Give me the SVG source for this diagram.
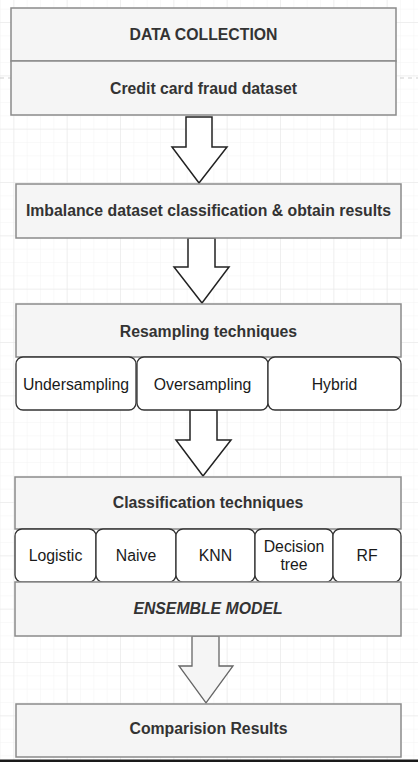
<svg xmlns="http://www.w3.org/2000/svg" width="418" height="762" viewBox="0 0 418 762">
<defs>
<pattern id="minor" x="13.33" y="22" width="13.333" height="13.333" patternUnits="userSpaceOnUse">
<path d="M0 0H13.333M0 0V13.333" fill="none" stroke="#f3f3f3" stroke-width="1"/>
</pattern>
<pattern id="major" x="13.33" y="22" width="53.333" height="53.333" patternUnits="userSpaceOnUse">
<path d="M0 0H53.333M0 0V53.333" fill="none" stroke="#e6e6e6" stroke-width="1"/>
</pattern>
</defs>
<style>
.box{fill:#f5f5f5;stroke:#8a8a8a;stroke-width:1.5}
.sub{fill:#ffffff;stroke:#333333;stroke-width:1.3}
.arrow{fill:#ffffff;stroke:#222222;stroke-width:1.5;stroke-linejoin:miter}
.arrow2{fill:#f5f5f5;stroke:#666666;stroke-width:1.3}
.h{font-family:"Liberation Sans",Arial,sans-serif;font-size:15.8px;font-weight:bold;fill:#333333;text-anchor:middle}
.t{font-family:"Liberation Sans",Arial,sans-serif;font-size:15.8px;fill:#1a1a1a;text-anchor:middle}
</style>
<rect width="418" height="762" fill="#ffffff"/>
<rect width="418" height="762" fill="url(#minor)"/>
<rect width="418" height="762" fill="url(#major)"/>
<line x1="0" y1="78" x2="418" y2="78" stroke="#cfcfcf" stroke-width="1" stroke-dasharray="4 4"/>

<g id="connectors">
<path class="arrow" d="M186 117V147H172L199 183L227 147H212V117Z"/>
<path class="arrow" d="M188 238V267H174L202 303L229 267H215V238Z"/>
<path class="arrow" d="M190 410V440H176L203 476L231 440H217V410Z"/>
<path class="arrow2" d="M192 636V666H179L206 703L233 666H219V636Z"/>
</g>

<g id="data-collection">
<rect class="box" x="11" y="8" width="385" height="53"/>
<text class="h" x="203.5" y="39.5">DATA COLLECTION</text>
</g>
<g id="credit-card">
<rect class="box" x="11" y="61" width="385" height="54"/>
<text class="h" x="203.5" y="94">Credit card fraud dataset</text>
</g>
<g id="imbalance">
<rect class="box" x="16" y="184" width="385" height="54"/>
<text class="h" x="208.5" y="216">Imbalance dataset classification &amp; obtain results</text>
</g>
<g id="resampling">
<rect class="box" x="16" y="304" width="385" height="53"/>
<text class="h" x="208.5" y="337">Resampling techniques</text>
</g>
<g id="undersampling">
<rect class="sub" x="16" y="357" width="120" height="53" rx="7"/>
<text class="t" x="76" y="390">Undersampling</text>
</g>
<g id="oversampling">
<rect class="sub" x="137" y="357" width="131" height="53" rx="7"/>
<text class="t" x="202.5" y="390">Oversampling</text>
</g>
<g id="hybrid">
<rect class="sub" x="268" y="357" width="133" height="53" rx="7"/>
<text class="t" x="334.5" y="390">Hybrid</text>
</g>
<g id="classification">
<rect class="box" x="15" y="477" width="386" height="52"/>
<text class="h" x="208" y="508">Classification techniques</text>
</g>
<g id="logistic">
<rect class="sub" x="15" y="529" width="81" height="53" rx="7"/>
<text class="t" x="55.5" y="561">Logistic</text>
</g>
<g id="naive">
<rect class="sub" x="96" y="529" width="80" height="53" rx="7"/>
<text class="t" x="136" y="561">Naive</text>
</g>
<g id="knn">
<rect class="sub" x="176" y="529" width="79" height="53" rx="7"/>
<text class="t" x="215.5" y="561">KNN</text>
</g>
<g id="decision-tree">
<rect class="sub" x="255" y="529" width="78" height="53" rx="7"/>
<text class="t" x="294" y="552">Decision</text>
<text class="t" x="294" y="570">tree</text>
</g>
<g id="rf">
<rect class="sub" x="333" y="529" width="68" height="53" rx="7"/>
<text class="t" x="367" y="561">RF</text>
</g>
<g id="ensemble">
<rect class="box" x="15" y="582" width="386" height="54"/>
<text class="h" x="208" y="614" font-style="italic">ENSEMBLE MODEL</text>
</g>
<g id="comparison">
<rect class="box" x="16" y="704" width="385" height="53"/>
<text class="h" x="208.5" y="734">Comparision Results</text>
</g>
<rect x="0" y="759.5" width="418" height="2.5" fill="#1a1a1a"/>
</svg>
